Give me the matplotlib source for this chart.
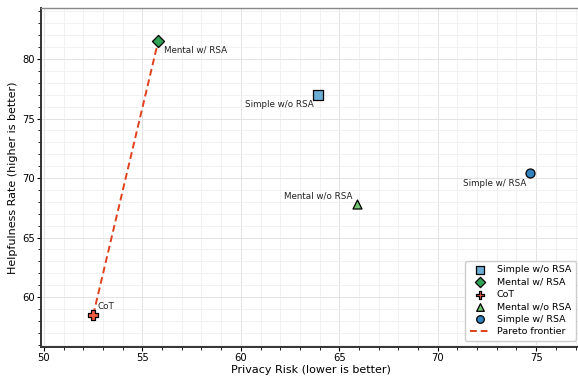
import matplotlib
matplotlib.use("Agg")
from matplotlib import pyplot as plt
from matplotlib.ticker import MultipleLocator

methods = ["Simple w/o RSA", "Mental w/ RSA", "CoT", "Mental w/o RSA", "Simple w/ RSA"]
privacy_risk = [63.9, 55.8, 52.5, 65.9, 74.7]
helpfulness = [77.0, 81.5, 58.5, 67.8, 70.4]
markers = ["s", "D", "P", "^", "o"]
colors = ["#6baed6", "#31a354", "#ef5b3f", "#74c476", "#3182bd"]

# label placement: offset in points and alignment
label_offsets = [(-3, -7, "right"), (4, -6, "left"), (3, 6, "left"), (-3, 6, "right"), (-3, -7, "right")]

pareto = ["CoT", "Mental w/ RSA"]

fig = plt.figure(figsize=(5.78, 3.76), dpi=100)
ax = fig.add_axes([0.071, 0.077, 0.935, 0.902])

px = [privacy_risk[methods.index(m)] for m in pareto]
py = [helpfulness[methods.index(m)] for m in pareto]

for i, m in enumerate(methods):
    ax.scatter(privacy_risk[i], helpfulness[i], marker=markers[i], s=42 if markers[i] != "D" else 38,
               color=colors[i], edgecolor="black", linewidth=0.9, zorder=3, label=m)
    dx, dy, ha = label_offsets[i]
    ax.annotate(m, (privacy_risk[i], helpfulness[i]), xytext=(dx, dy), textcoords="offset points",
                ha=ha, va="center", fontsize=6.3, color="#222222")

ax.plot(px, py, linestyle=(0, (3.5, 2)), color="#e0401c", linewidth=1.4, label="Pareto frontier", zorder=2)

ax.set_xlim(49.85, 77.3)
ax.set_ylim(55.8, 84.3)
ax.xaxis.set_major_locator(MultipleLocator(5))
ax.yaxis.set_major_locator(MultipleLocator(5))
ax.xaxis.set_minor_locator(MultipleLocator(1))
ax.yaxis.set_minor_locator(MultipleLocator(1))
ax.grid(which="major", color="#e3e3e3", linewidth=0.7)
ax.grid(which="minor", color="#efefef", linewidth=0.6)
ax.set_axisbelow(True)
ax.tick_params(labelsize=7.2, width=0.8, length=3, pad=1.5)
ax.tick_params(which="minor", length=2, width=0.6)

for side in ["left", "bottom"]:
    ax.spines[side].set_linewidth(1.4)
    ax.spines[side].set_color("#333333")
ax.spines["top"].set_color("#888888")
ax.spines["top"].set_linewidth(1.0)
ax.spines["right"].set_visible(False)

ax.set_xlabel("Privacy Risk (lower is better)", fontsize=8, labelpad=1)
ax.set_ylabel("Helpfulness Rate (higher is better)", fontsize=8, labelpad=3)

ax.legend(loc="lower right", fontsize=6.8, frameon=True, framealpha=1, edgecolor="#cccccc",
          borderpad=0.5, labelspacing=0.35, handlelength=2.0, markerscale=0.85,
          bbox_to_anchor=(0.998, 0.005))

plt.savefig("out.png", dpi=100)
